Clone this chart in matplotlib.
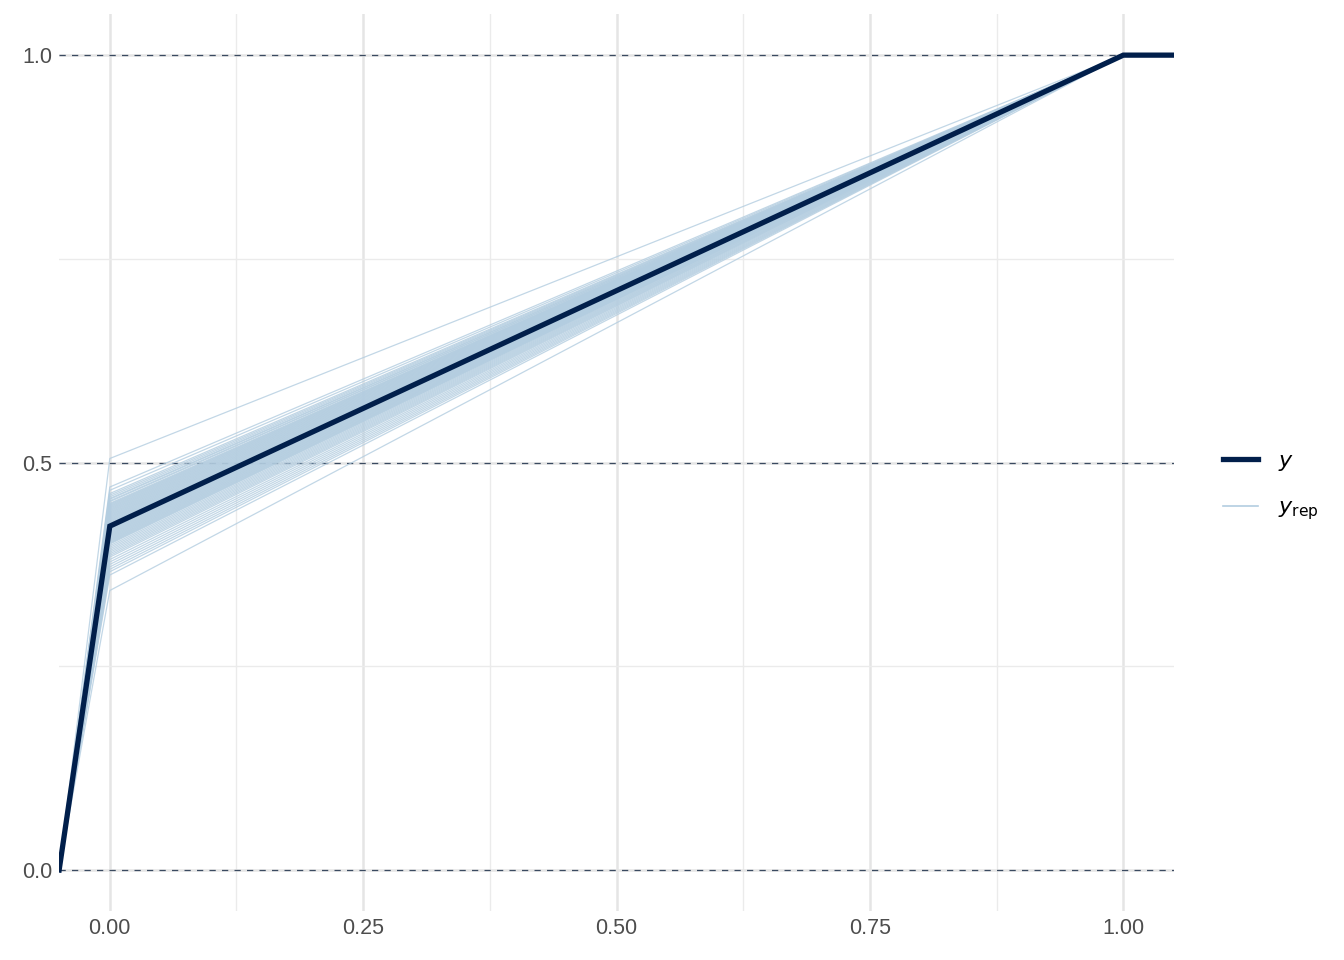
import numpy as np
import matplotlib.pyplot as plt
from matplotlib.lines import Line2D

plt.rcParams['font.family'] = ['Liberation Sans', 'DejaVu Sans']

# ECDF a los puntos x = -0.05, 0, 1, 1.05
x_puntos = [-0.05, 0.0, 1.0, 1.05]
p_obs = 0.422  # proporcion observada de ceros
# proporciones de ceros en cada replica (leidas del grafico)
p_rep = [0.505, 0.470, 0.466, 0.462, 0.460, 0.458, 0.456, 0.455, 0.453, 0.452,
         0.450, 0.449, 0.448, 0.447, 0.446, 0.445, 0.444, 0.443, 0.442, 0.441,
         0.440, 0.439, 0.438, 0.437, 0.436, 0.435, 0.434, 0.433, 0.432, 0.431,
         0.430, 0.429, 0.428, 0.427, 0.426, 0.425, 0.424, 0.423, 0.421, 0.420,
         0.419, 0.418, 0.417, 0.416, 0.415, 0.414, 0.413, 0.412, 0.411, 0.410,
         0.409, 0.408, 0.407, 0.406, 0.405, 0.404, 0.403, 0.402, 0.401, 0.400,
         0.398, 0.396, 0.394, 0.392, 0.390, 0.388, 0.386, 0.384, 0.381, 0.378,
         0.375, 0.372, 0.369, 0.366, 0.362, 0.343]
y_ticks = [0.0, 0.5, 1.0]
x_ticks = [0.0, 0.25, 0.5, 0.75, 1.0]

claro = '#b3cde0'
oscuro = '#011f4b'

fig = plt.figure(figsize=(13.44, 9.6), dpi=100)
ax = fig.add_axes([0.044, 0.0513, 0.8295, 0.9337])

# Rejilla tipo ggplot minimal
for v in [0.125, 0.375, 0.625, 0.875]:
    ax.axvline(v, color='#ebebeb', lw=1.0, zorder=0)
for v in x_ticks:
    ax.axvline(v, color='#e5e5e5', lw=1.8, zorder=0)
for v in [0.25, 0.75]:
    ax.axhline(v, color='#ebebeb', lw=1.0, zorder=0)
for v in y_ticks:
    ax.axhline(v, color='#e5e5e5', lw=1.8, zorder=0)

# Lineas de referencia
for v in y_ticks:
    ax.axhline(v, color='#3a4a60', lw=0.9, ls=(0, (5, 5)), zorder=1)

for p in p_rep:
    ax.plot(x_puntos, [0, p, 1, 1], color=claro, lw=0.9, alpha=0.8, zorder=2)
ax.plot(x_puntos, [0, p_obs, 1, 1], color=oscuro, lw=3.8, zorder=3,
        solid_joinstyle='miter')

ax.set_xlim(-0.05, 1.05)
ax.set_ylim(-0.05, 1.05)
ax.set_xticks(x_ticks)
ax.set_xticklabels(['0.00', '0.25', '0.50', '0.75', '1.00'])
ax.set_yticks(y_ticks)
ax.set_yticklabels(['0.0', '0.5', '1.0'])
ax.tick_params(length=0, labelsize=15.5, labelcolor='#4d4d4d', pad=5)
for s in ax.spines.values():
    s.set_visible(False)

handles = [Line2D([], [], color=oscuro, lw=3.8),
           Line2D([], [], color=claro, lw=1.2)]
fig.legend(handles, ['$y$', r'$y_{\mathrm{rep}}$'], loc='center left',
           bbox_to_anchor=(0.895, 0.493), frameon=False, fontsize=16,
           handlelength=1.6, labelspacing=1.1, handletextpad=0.9)

plt.savefig('out.png', dpi=100)
plt.close()
